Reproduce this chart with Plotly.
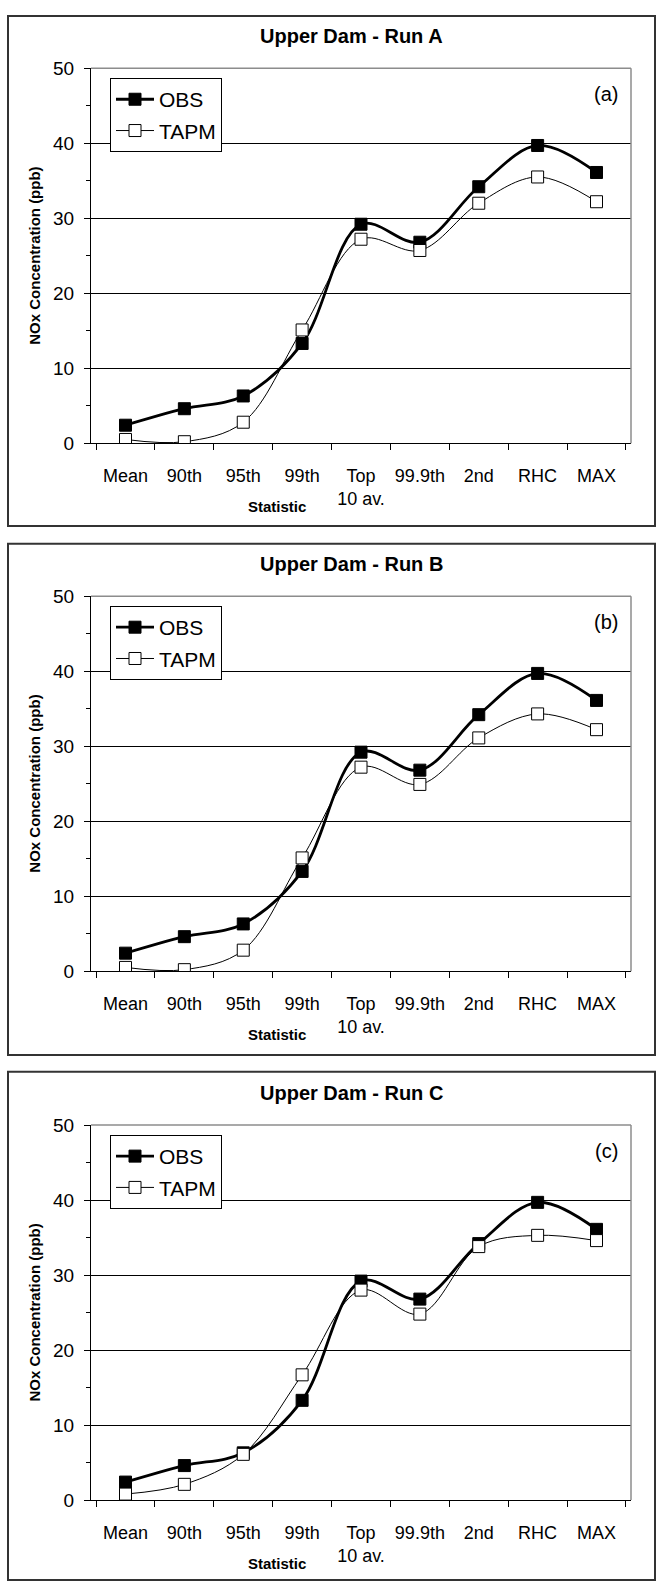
import plotly.graph_objects as go

# ---------------- data ----------------
categories = ["Mean", "90th", "95th", "99th", "Top<br>10 av.", "99.9th", "2nd", "RHC", "MAX"]
obs = [2.4, 4.6, 6.3, 13.3, 29.2, 26.8, 34.2, 39.7, 36.1]
tapm_a = [0.5, 0.2, 2.8, 15.1, 27.2, 25.7, 32.0, 35.5, 32.2]
tapm_b = [0.5, 0.2, 2.8, 15.1, 27.2, 24.9, 31.1, 34.3, 32.2]
tapm_c = [0.8, 2.1, 6.1, 16.7, 28.0, 24.8, 33.8, 35.3, 34.6]
titles = ["Upper Dam - Run A", "Upper Dam - Run B", "Upper Dam - Run C"]
panel_tags = ["(a)", "(b)", "(c)"]
y_ticks = [0, 10, 20, 30, 40, 50]

W, H = 658, 1593
FONT = "Liberation Sans, Arial, sans-serif"


def px(x):
    return x / W


def py(y):
    return 1 - y / H


plot_tops = [59, 594, 1130]
PLOT_H = 380
PL, PR = 91, 631
box_tops = [6, 541, 1076]
box_bots = [523, 1059, 1591]

fig = go.Figure()
shapes = []
annotations = []
tapms = [tapm_a, tapm_b, tapm_c]

for i in range(3):
    sfx = "" if i == 0 else str(i + 1)
    xa, ya = "x" + sfx, "y" + sfx
    leg = "legend" + sfx
    top = plot_tops[i]
    fig.add_trace(go.Scatter(
        x=categories, y=obs, name="OBS", mode="lines+markers",
        line=dict(color="black", width=2.8, shape="spline", smoothing=1),
        marker=dict(symbol="square", size=12, color="black", line=dict(color="black", width=1)),
        xaxis=xa, yaxis=ya, legend=leg, legendgroup="obs" + sfx,
    ))
    fig.add_trace(go.Scatter(
        x=categories, y=tapms[i], name="TAPM", mode="lines+markers",
        line=dict(color="black", width=1, shape="spline", smoothing=1),
        marker=dict(symbol="square", size=12, color="white", line=dict(color="black", width=1)),
        xaxis=xa, yaxis=ya, legend=leg, legendgroup="tapm" + sfx,
    ))
    fig.update_layout(**{
        "xaxis" + sfx: dict(
            domain=[px(PL), px(PR)], anchor=ya, type="category",
            categoryorder="array", categoryarray=categories,
            tickson="boundaries", ticks="outside", ticklen=6, tickcolor="black",
            showline=True, linecolor="black", linewidth=1, showgrid=False,
            tickangle=0,
            tickfont=dict(family=FONT, size=18, color="black"),
            ticklabelstandoff=16, fixedrange=True,
        ),
        "yaxis" + sfx: dict(
            domain=[py(top + PLOT_H), py(top)], anchor=xa, range=[0, 50],
            tickvals=y_ticks, ticks="outside", ticklen=6, tickcolor="black",
            minor=dict(dtick=5, tick0=0, ticks="outside", ticklen=4, tickcolor="black", showgrid=False),
            showline=True, linecolor="black", linewidth=1,
            showgrid=True, gridcolor="black", gridwidth=1, zeroline=False,
            tickfont=dict(family=FONT, size=19, color="black"),
            ticklabelstandoff=6, fixedrange=True,
        ),
        leg: dict(
            x=px(110), y=py(top + 10), xanchor="left", yanchor="top",
            bordercolor="black", borderwidth=1, bgcolor="white",
            font=dict(family=FONT, size=21, color="black"),
            traceorder="grouped", tracegroupgap=1, itemwidth=38,
        ),
    })
    shapes.append(dict(type="line", xref="paper", yref="paper",
                       x0=px(PL), x1=px(PR), y0=py(top), y1=py(top),
                       line=dict(color="#8c8c8c", width=1.5), layer="above"))
    shapes.append(dict(type="line", xref="paper", yref="paper",
                       x0=px(PR), x1=px(PR), y0=py(top), y1=py(top + PLOT_H),
                       line=dict(color="#8c8c8c", width=1.5), layer="above"))
    shapes.append(dict(type="rect", xref="paper", yref="paper",
                       x0=px(8), x1=px(655), y0=py(box_bots[i]), y1=py(box_tops[i]),
                       line=dict(color="#333333", width=2), layer="above"))
    annotations.append(dict(text="<b>" + titles[i] + "</b>", xref="paper", yref="paper",
                            x=px(351), y=py(top - 33), xanchor="center", yanchor="middle",
                            showarrow=False, font=dict(family=FONT, size=20, color="black")))
    annotations.append(dict(text=panel_tags[i], xref="paper", yref="paper",
                            x=px(606), y=py(top + 26), xanchor="center", yanchor="middle",
                            showarrow=False, font=dict(family=FONT, size=20, color="black")))
    annotations.append(dict(text="<b>NOx Concentration (ppb)</b>", xref="paper", yref="paper",
                            x=px(35), y=py(top + PLOT_H / 2), xanchor="center", yanchor="middle",
                            textangle=-90, showarrow=False,
                            font=dict(family=FONT, size=15, color="black")))
    annotations.append(dict(text="<b>Statistic</b>", xref="paper", yref="paper",
                            x=px(277), y=py(top + PLOT_H + 64), xanchor="center", yanchor="middle",
                            showarrow=False, font=dict(family=FONT, size=15, color="black")))

fig.update_layout(
    width=W, height=H, margin=dict(l=0, r=0, t=0, b=0),
    paper_bgcolor="white", plot_bgcolor="white",
    shapes=shapes, annotations=annotations,
    font=dict(family=FONT, color="black"),
)

fig.write_html("out.html")
